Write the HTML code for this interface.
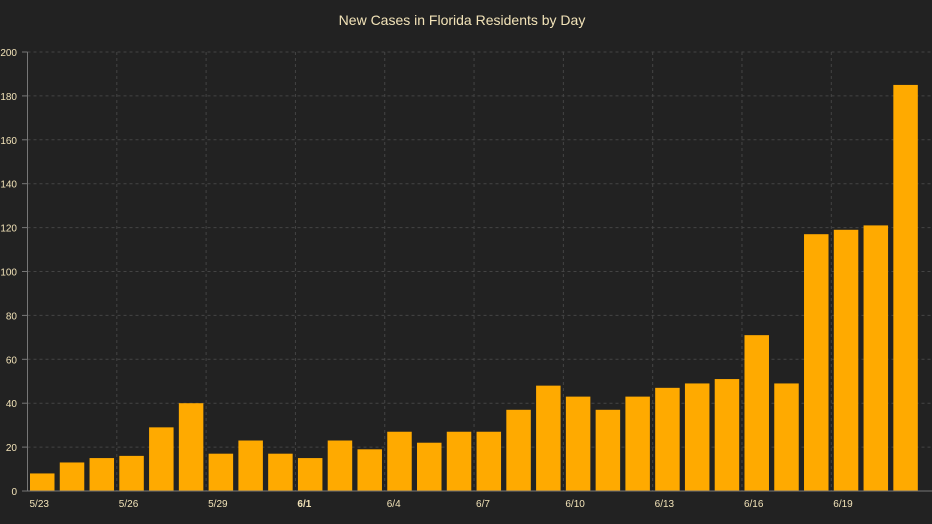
<!DOCTYPE html>
<html><head><meta charset="utf-8"><style>
html,body{margin:0;padding:0;background:#222222;}
svg{display:block;font-family:"Liberation Sans",sans-serif;}
</style></head><body>
<svg id="chart" width="932" height="524" viewBox="0 0 932 524">
<rect width="932" height="524" fill="#222222"/>
<text x="462" y="25" text-anchor="middle" font-size="14" fill="#f2e3b8">New Cases in Florida Residents by Day</text>
<g id="grid"></g><g id="bars"></g><g id="axes"></g>
</svg>
<script>
const categories=["5/23","5/24","5/25","5/26","5/27","5/28","5/29","5/30","5/31","6/1","6/2","6/3","6/4","6/5","6/6","6/7","6/8","6/9","6/10","6/11","6/12","6/13","6/14","6/15","6/16","6/17","6/18","6/19","6/20","6/21"];
const cases=[8,13,15,16,29,40,17,23,17,15,23,19,27,22,27,27,37,48,43,37,43,47,49,51,71,49,117,119,121,185];
const yTicks=[0,20,40,60,80,100,120,140,160,180,200];
const NS="http://www.w3.org/2000/svg";
const x0=27.5,slot=29.77,y0=491,y1=52,yMax=200;
const xs=i=>x0+i*slot;
const ys=v=>y0-(v/yMax)*(y0-y1);
function mk(t,a,p){const e=document.createElementNS(NS,t);for(const k in a)e.setAttribute(k,a[k]);p.appendChild(e);return e;}
const grid=document.getElementById('grid'),bars=document.getElementById('bars'),axes=document.getElementById('axes');
yTicks.forEach(v=>{
 if(v>0){const g=mk('line',{x1:x0,x2:932,y1:ys(v),y2:ys(v),stroke:'#444',"stroke-dasharray":"3,3"},grid);
 
 }
 const t=mk('text',{x:17,y:ys(v)+4,"text-anchor":"end","font-size":"10",fill:'#f2e3b8'},axes);t.textContent=v;
 
 
 const tk=mk('line',{x1:22,x2:x0,y1:ys(v),y2:ys(v),stroke:'#777'},axes);
 
 
});
categories.forEach((c,i)=>{
 if(i%3===0){
  if(i>0){const g=mk('line',{x1:xs(i),x2:xs(i),y1:y1,y2:y0,stroke:'#444',"stroke-dasharray":"3,3"},grid);
  
  }
  const t=mk('text',{x:xs(i)+2,y:507,"font-size":"10",fill:'#f2e3b8',"font-weight":c==="6/1"?"bold":"normal"},axes);t.textContent=c;
  
  
 }
 const b=mk('rect',{x:xs(i)+2.5,y:ys(cases[i]),width:24.5,height:y0-ys(cases[i]),fill:'#ffaa00'},bars);
 
 
});
const ya=mk('line',{x1:x0,x2:x0,y1:y1,y2:y0,stroke:'#777'},axes);


const xa=mk('line',{x1:x0,x2:932,y1:y0,y2:y0,stroke:'#777'},axes);


</script>
</body></html>
